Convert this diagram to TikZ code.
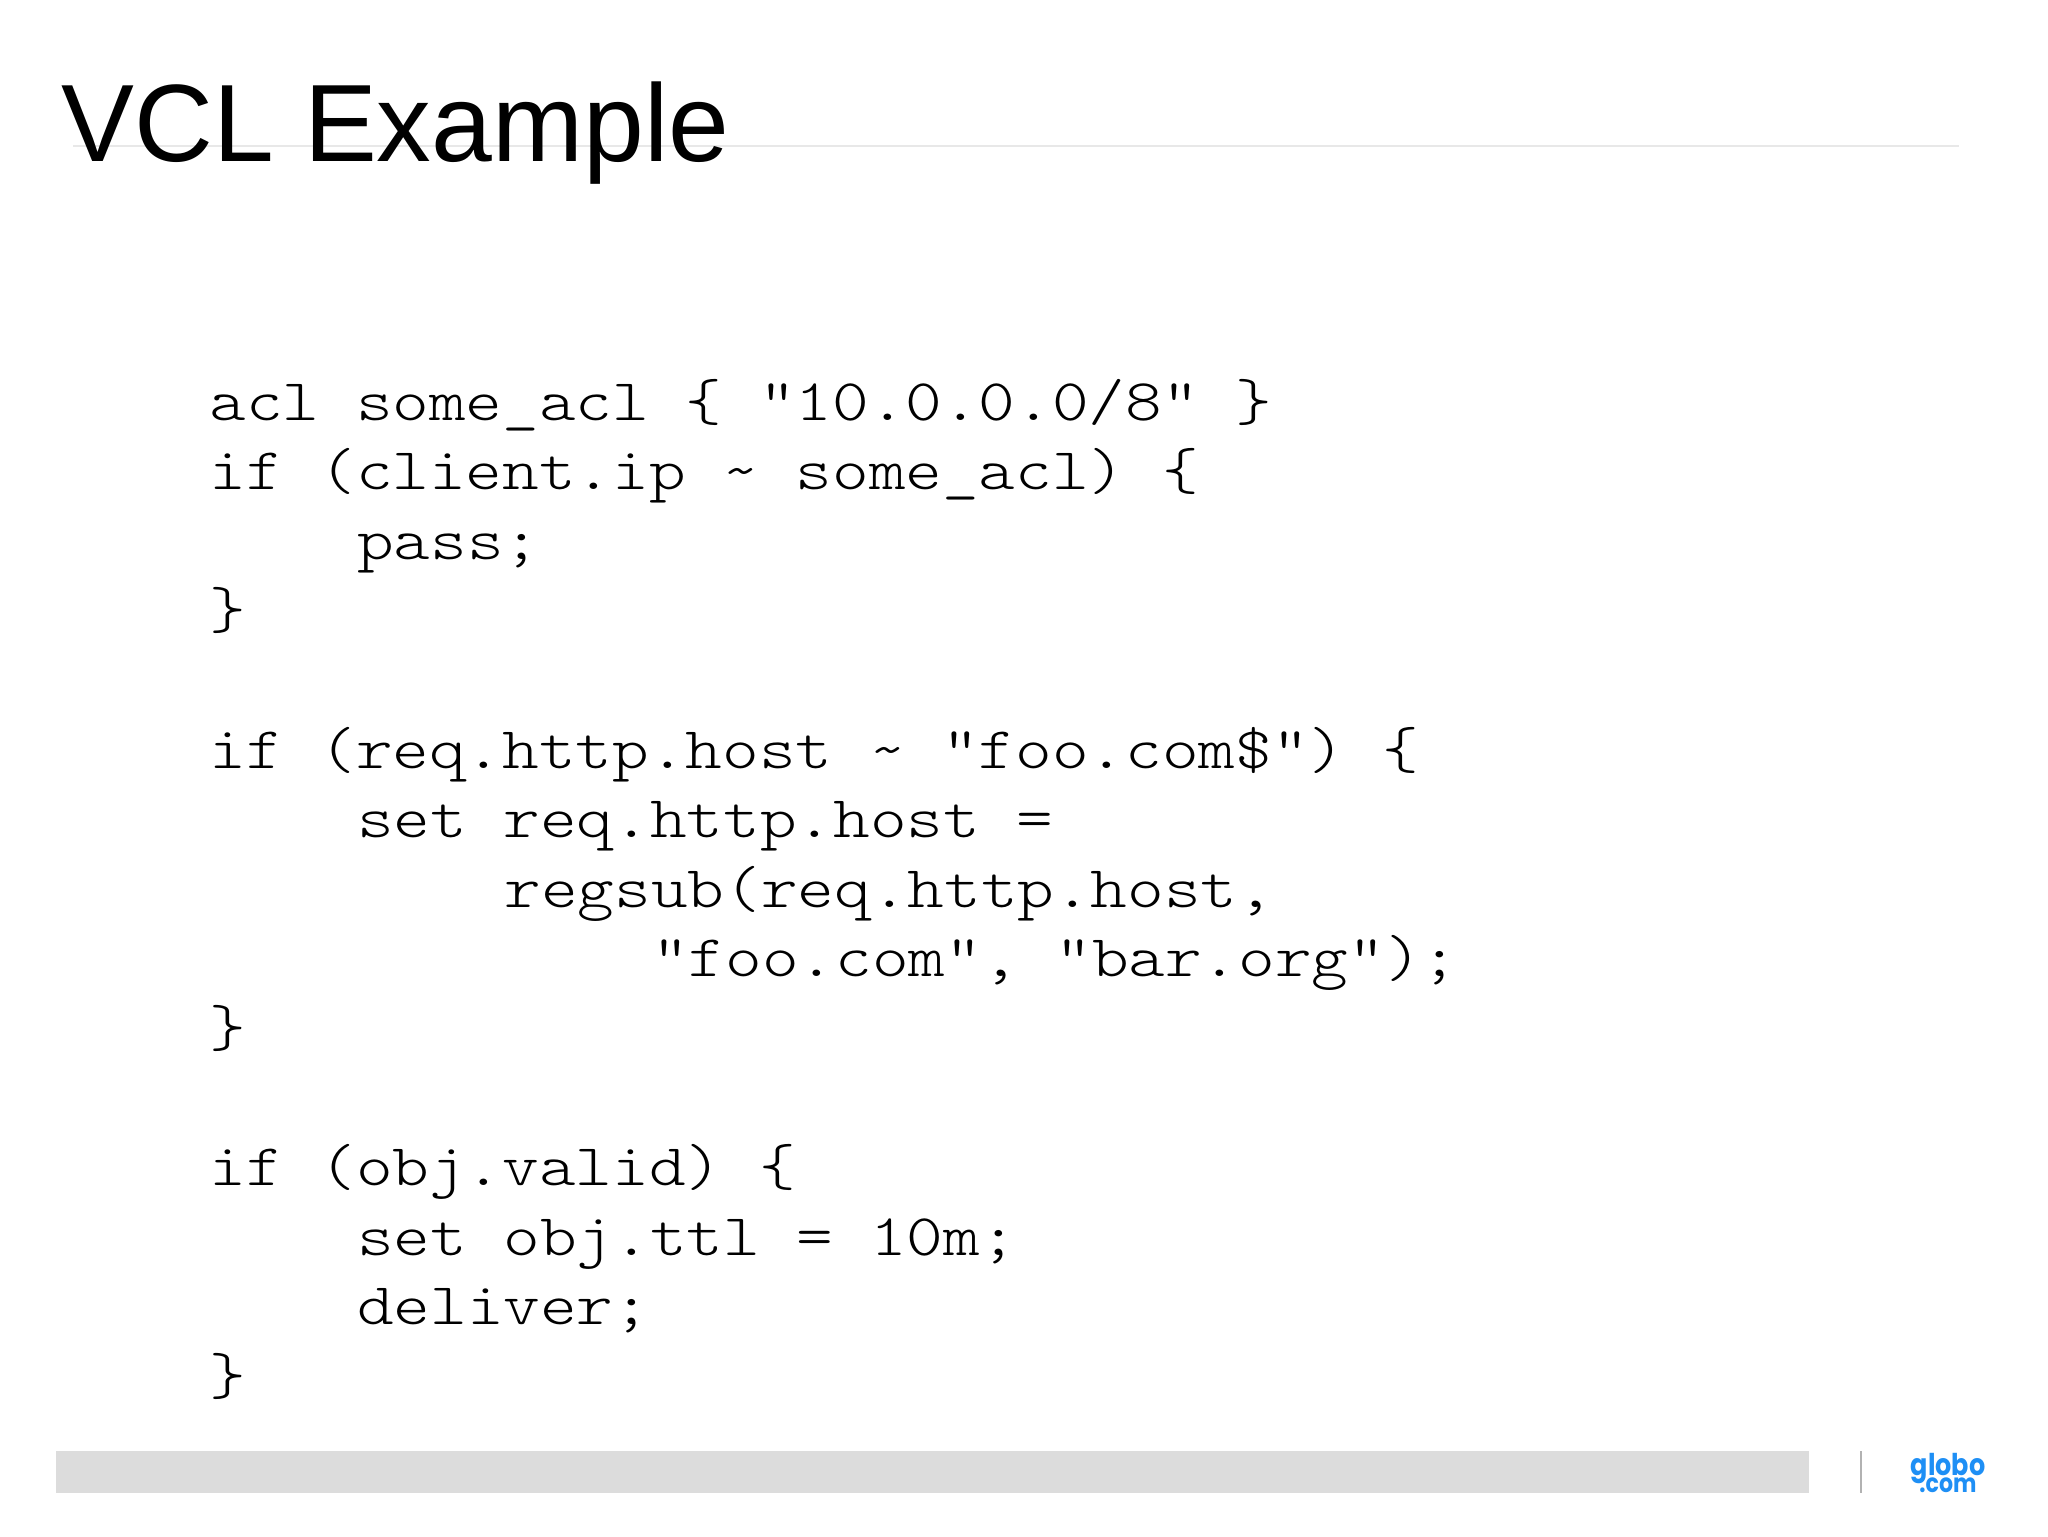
\documentclass[tikz,border=0pt]{standalone}
\usepackage{fontspec}
\setmainfont{Liberation Sans}
\newfontfamily\logofont{Poppins}
\definecolor{barfill}{HTML}{DCDCDC}
\definecolor{rulegray}{HTML}{E8E8E8}
\definecolor{logoblue}{HTML}{1E8FF5}
\tikzset{
	codeline/.style={anchor=base west,inner sep=0pt,xscale=1.183,transform shape,text=black,font=\ttfamily\fontseries{l}\fontsize{29.5}{35}\selectfont},
	titleline/.style={anchor=base west,inner sep=0pt,xscale=.993,transform shape,font=\fontsize{55}{60}\selectfont},
	logoline/.style={anchor=base,inner sep=0pt,xscale=.85,transform shape,text=logoblue,font=\logofont\bfseries\fontsize{#1}{#1}\selectfont},
}
\begin{document}
\begin{tikzpicture}[x=.5pt,y=-.5pt]
	\useasboundingbox[fill=white] (0,0) rectangle (2048,1536);
	\def\pitch{36.9}
	\def\lead{69.6}
	\coordinate (ruleL) at (73,146);
	\coordinate (ruleR) at (1959,146);
	\draw[rulegray,line width=1pt] (ruleL) -- (ruleR);
	\node[titleline] (title) at (61,162) {VCL Example};
	% code, one line per row: row/column/text
	\foreach \row/\col/\txt [count=\i] in {
		0/0/{acl some\_acl \{ "10.0.0.0/8" \}},
		1/0/{if (client.ip \textasciitilde{} some\_acl) \{},
		2/4/{pass;},
		3/0/{\}},
		5/0/{if (req.http.host \textasciitilde{} "foo.com\$") \{},
		6/4/{set req.http.host =},
		7/8/{regsub(req.http.host,},
		8/12/{"foo.com", "bar.org");},
		9/0/{\}},
		11/0/{if (obj.valid) \{},
		12/4/{set obj.ttl = 10m;},
		13/4/{deliver;},
		14/0/{\}}}
	{
		\node[codeline] (code\i) at (209+\col*\pitch,420+\row*\lead) {\txt};
	}
	\fill[barfill] (56,1451) rectangle (1809,1493);
	\coordinate (sepT) at (1861,1451);
	\coordinate (sepB) at (1861,1493);
	\draw[gray!60,line width=1pt] (sepT) -- (sepB);
	\node[logoline=15] (globo) at (1948,1475) {globo};
	\node[logoline=13] (dotcom) at (1948,1492) {.com};
\end{tikzpicture}
\end{document}
